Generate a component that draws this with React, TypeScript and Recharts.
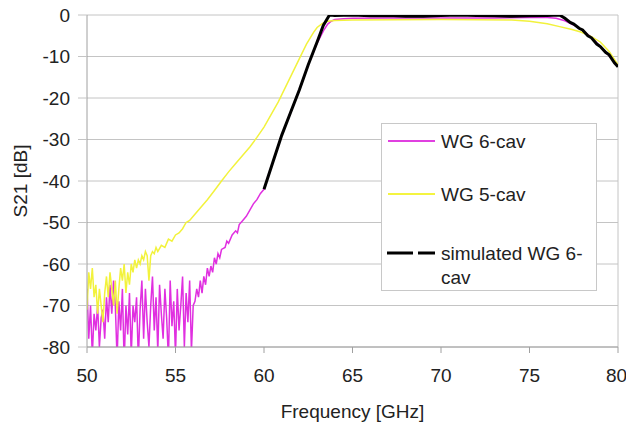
import { CartesianGrid, Legend, Line, LineChart, ReferenceLine, XAxis, YAxis } from "recharts";

const xTicks = [50, 55, 60, 65, 70, 75, 80];
const yTicks = [0, -10, -20, -30, -40, -50, -60, -70, -80];

// [frequency GHz, S21 dB]
const wg6Cav: [number, number][] = [
  [50.0, -66], [50.1, -78], [50.2, -70], [50.3, -82], [50.4, -72], [50.5, -76], [50.6, -70], [50.7, -80],
  [50.8, -73], [50.9, -71], [51.0, -78], [51.1, -68], [51.2, -74], [51.3, -65], [51.4, -72], [51.5, -64],
  [51.6, -70], [51.7, -83], [51.8, -69], [51.9, -76], [52.0, -66], [52.1, -84], [52.2, -70], [52.3, -77],
  [52.4, -67], [52.5, -82], [52.6, -70], [52.7, -74], [52.8, -68], [52.9, -83], [53.0, -71], [53.1, -64],
  [53.2, -78], [53.3, -66], [53.4, -74], [53.5, -80], [53.6, -70], [53.7, -63], [53.8, -76], [53.9, -68],
  [54.0, -81], [54.1, -65], [54.2, -72], [54.3, -78], [54.4, -66], [54.5, -73], [54.6, -83], [54.7, -64],
  [54.8, -75], [54.9, -69], [55.0, -82], [55.1, -66], [55.2, -76], [55.3, -70], [55.4, -63], [55.5, -80],
  [55.6, -67], [55.7, -74], [55.8, -64], [55.9, -81], [56.0, -70], [56.1, -69], [56.2, -66], [56.3, -68],
  [56.4, -64], [56.5, -67], [56.6, -63], [56.7, -65], [56.8, -61], [56.9, -63], [57.0, -60.5], [57.1, -62],
  [57.2, -58.5], [57.3, -60], [57.4, -57.5], [57.5, -58.5], [57.6, -56.5], [57.8, -56], [57.9, -54.5],
  [58.0, -55], [58.2, -53], [58.4, -52], [58.5, -52.5], [58.6, -50.5], [58.8, -49.5], [59.0, -48.5],
  [59.2, -47], [59.4, -45.5], [59.6, -44.5], [59.8, -43], [60.0, -42], [60.5, -35.5], [61.0, -29],
  [61.5, -23.5], [62.0, -18], [62.5, -12], [63.0, -6.8], [63.4, -3.5], [63.6, -2.2], [63.8, -1.5],
  [64.0, -1.1], [64.5, -0.9], [65.0, -0.8], [67.0, -0.7], [70.0, -0.7], [73.0, -0.7], [75.0, -0.6],
  [76.0, -0.6], [76.5, -0.8], [77.0, -1.4], [77.5, -2.4], [78.0, -3.7], [78.5, -5.4], [79.0, -7.6],
  [79.5, -9.8], [80.0, -12.2],
];

const wg5Cav: [number, number][] = [
  [50.0, -71], [50.1, -62], [50.2, -66], [50.3, -61], [50.4, -68], [50.5, -65], [50.6, -72], [50.7, -66],
  [50.8, -70], [50.9, -74], [51.0, -67], [51.1, -63], [51.2, -68], [51.3, -62], [51.4, -66], [51.5, -70],
  [51.6, -64], [51.7, -72], [51.8, -66], [51.9, -61], [52.0, -64], [52.1, -60], [52.2, -67], [52.3, -62],
  [52.4, -65], [52.5, -60], [52.6, -62], [52.7, -59], [52.8, -61], [52.9, -59], [53.0, -60], [53.1, -58],
  [53.2, -59], [53.3, -57], [53.4, -58], [53.5, -64], [53.6, -58], [53.7, -57], [53.8, -57.5], [53.9, -56],
  [54.0, -57], [54.2, -55.5], [54.4, -56], [54.6, -54], [54.8, -54.5], [55.0, -53], [55.2, -52.5],
  [55.4, -51.5], [55.6, -50], [55.8, -49.5], [56.0, -48.5], [56.4, -46.5], [56.8, -44.5], [57.2, -42.3],
  [57.6, -40], [58.0, -37.8], [58.4, -35.8], [58.8, -33.8], [59.2, -31.8], [59.6, -29.5], [60.0, -27],
  [60.4, -24], [60.8, -21], [61.2, -17.5], [61.6, -14], [62.0, -10.5], [62.4, -7], [62.8, -4.2],
  [63.0, -3], [63.3, -2], [63.6, -1.5], [64.0, -1.3], [65.0, -1.2], [70.0, -1.1], [74.0, -1.2],
  [75.0, -1.5], [76.0, -2.1], [76.7, -2.8], [77.4, -3.5], [77.9, -4.1], [78.5, -5.2], [79.0, -6.5],
  [79.5, -8.8], [80.0, -12],
];

const simulatedWg6Cav: [number, number][] = [
  [60.0, -42], [60.5, -35.5], [61.0, -29], [61.5, -23.5], [62.0, -18], [62.5, -12], [63.0, -6.5],
  [63.35, -2.5], [63.7, 0], [64.0, -0.1], [65.0, 0], [66.0, -0.2], [67.0, -0.1], [68.0, -0.3], [69.0, -0.3],
  [70.0, -0.1], [71.0, 0], [72.0, -0.1], [73.0, -0.2], [74.0, -0.3], [75.0, -0.2], [76.0, -0.1], [76.7, 0],
  [77.0, -0.8], [77.3, -1.8], [77.5, -2.2], [77.8, -3.2], [78.0, -3.6], [78.3, -5.0], [78.5, -5.5],
  [78.8, -7.0], [79.0, -7.6], [79.3, -9.0], [79.5, -9.6], [79.8, -11.5], [80.0, -12.5],
];

const toRows = (pts: [number, number][]) => pts.map(([freq, db]) => ({ freq, db }));

const FONT = '"Liberation Sans", Arial, sans-serif';
const GRID = "#c4c4c4";
const AXIS = "#a0a0a0";

function LegendBox() {
  return (
    <svg width={216} height={168} style={{ display: "block" }}>
      <rect x={0.5} y={0.5} width={215} height={167} fill="#fff" stroke="#c8c8c8" />
      <line x1={7} x2={54} y1={18} y2={18} stroke="#e040e0" strokeWidth={2} />
      <text x={60} y={25} fontSize={19} fill="#222" fontFamily={FONT}>WG 6-cav</text>
      <line x1={7} x2={54} y1={71} y2={71} stroke="#f4f440" strokeWidth={2} />
      <text x={60} y={78} fontSize={19} fill="#222" fontFamily={FONT}>WG 5-cav</text>
      <line x1={6} x2={54} y1={130} y2={130} stroke="#000" strokeWidth={3} strokeDasharray="26 5" />
      <text x={60} y={137} fontSize={19} fill="#222" fontFamily={FONT}>simulated WG 6-</text>
      <text x={60} y={161} fontSize={19} fill="#222" fontFamily={FONT}>cav</text>
    </svg>
  );
}

export default function App() {
  return (
    <div style={{ position: "absolute", left: 0, top: 0, width: 626, height: 426, background: "#fff" }}>
      <LineChart width={626} height={426} margin={{ top: 15, right: 8, bottom: 19, left: 0 }}>
        <CartesianGrid vertical={false} stroke={GRID} />
        <XAxis
          dataKey="freq"
          type="number"
          domain={[50, 80]}
          ticks={xTicks}
          allowDataOverflow
          height={60}
          stroke={AXIS}
          tickSize={6}
          tickMargin={16}
          tick={{ fill: "#222", fontSize: 19, fontFamily: FONT }}
          label={{
            content: () => (
              <text x={352.5} y={418} textAnchor="middle" fontSize={19} fill="#222" fontFamily={FONT}>
                Frequency [GHz]
              </text>
            ),
          }}
        />
        <YAxis
          type="number"
          domain={[-80, 0]}
          ticks={yTicks}
          allowDataOverflow
          width={87}
          stroke={AXIS}
          tickSize={9}
          tickMargin={8}
          tickLine={{ stroke: GRID }}
          tick={{ fill: "#222", fontSize: 19, fontFamily: FONT }}
          label={{
            content: () => (
              <text
                x={20}
                y={181}
                transform="rotate(-90 20 181)"
                textAnchor="middle"
                dominantBaseline="central"
                fontSize={19}
                fill="#222"
                fontFamily={FONT}
              >
                S21 [dB]
              </text>
            ),
          }}
        />
        <ReferenceLine x={80} stroke={GRID} />
        <Legend
          layout="vertical"
          align="center"
          verticalAlign="middle"
          wrapperStyle={{ position: "absolute", left: 381, top: 123, width: 216, height: 168 }}
          content={() => <LegendBox />}
        />
        <Line
          data={toRows(wg6Cav)}
          dataKey="db"
          name="WG 6-cav"
          stroke="#e030e0"
          strokeWidth={1.5}
          dot={false}
          isAnimationActive={false}
        />
        <Line
          data={toRows(wg5Cav)}
          dataKey="db"
          name="WG 5-cav"
          stroke="#f2f23c"
          strokeWidth={1.5}
          dot={false}
          isAnimationActive={false}
        />
        <Line
          data={toRows(simulatedWg6Cav)}
          dataKey="db"
          name="simulated WG 6-cav"
          stroke="#000"
          strokeWidth={3}
          dot={false}
          isAnimationActive={false}
        />
      </LineChart>
    </div>
  );
}
